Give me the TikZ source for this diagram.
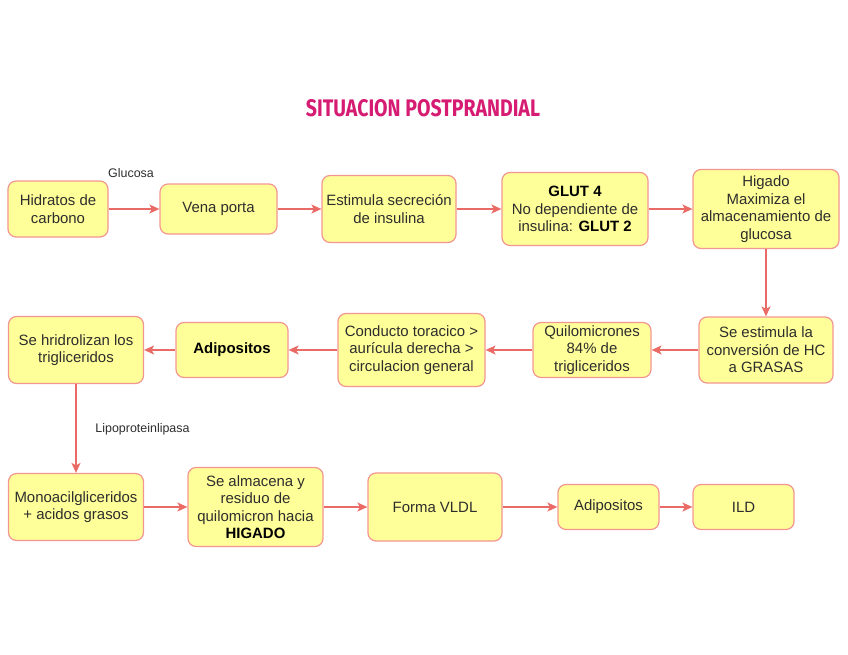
\documentclass[tikz,border=0pt]{standalone}
\usepackage{fontspec}
\usepackage{xcolor}
\setmainfont{Liberation Sans}
\newfontfamily\titleFont{Fira Sans}
\usetikzlibrary{arrows.meta}
\definecolor{boxFill}{RGB}{255,255,153}
\definecolor{boxLine}{RGB}{242,150,146}
\definecolor{arrowRed}{RGB}{234,107,102}
\definecolor{titlePink}{RGB}{214,27,114}
\definecolor{textGray}{RGB}{45,45,45}

\tikzset{
	flowBox/.style={draw=boxLine, fill=boxFill, line width=1.2bp, rounded corners=8bp,
		align=center, inner sep=1bp, text=textGray,
		font=\fontsize{15}{17.6}\selectfont},
	flowArrow/.style={draw=arrowRed, line width=1.4bp, -{Stealth[length=10bp, width=9bp, inset=2.5bp]}},
	edgeLabel/.style={text=textGray, font=\fontsize{12.5}{14}\selectfont, inner sep=0pt}
}

\begin{document}
\begin{tikzpicture}[x=1bp, y=-1bp]

% Define page.

	\useasboundingbox (0,0) rectangle (848,655);

% Title.

	\node[text=titlePink] (title) at (423, 108.5)
		{\resizebox{234bp}{17bp}{\titleFont\bfseries SITUACION\ POSTPRANDIAL}};

% Draw boxes.

	%first row
	\node[flowBox, minimum width=100bp, minimum height=56bp] (hidratos) at (58, 209) {Hidratos de\\carbono};
	\node[flowBox, minimum width=117bp, minimum height=50bp] (venaPorta) at (218.5, 209) {Vena porta};
	\node[flowBox, minimum width=134bp, minimum height=67bp] (estimula) at (389, 209) {Estimula secreción\\de insulina};
	\node[flowBox, minimum width=146bp, minimum height=73bp] (glut) at (575, 209) {\textcolor{black}{\textbf{GLUT 4}}\\No dependiente de\\insulina: \textcolor{black}{\textbf{GLUT 2}}};
	\node[flowBox, minimum width=146bp, minimum height=79bp] (higado) at (766, 209) {Higado\\Maximiza el\\almacenamiento de\\glucosa};

	%second row
	\node[flowBox, minimum width=134bp, minimum height=66bp] (seEstimula) at (766, 350) {Se estimula la\\conversión de HC\\a GRASAS};
	\node[flowBox, minimum width=118bp, minimum height=55bp] (quilo) at (592, 350) {Quilomicrones\\84\% de\\trigliceridos};
	\node[flowBox, minimum width=147bp, minimum height=73bp] (conducto) at (411.5, 350) {Conducto toracico >\\aurícula derecha >\\circulacion general};
	\node[flowBox, minimum width=112bp, minimum height=55bp] (adipositosBold) at (232, 350) {\textcolor{black}{\textbf{Adipositos}}};
	\node[flowBox, minimum width=135bp, minimum height=67bp] (hidrolizan) at (76, 350) {Se hridrolizan los\\trigliceridos};

	%third row
	\node[flowBox, minimum width=135bp, minimum height=67bp] (monoacil) at (76, 507) {Monoacilgliceridos\\+ acidos grasos};
	\node[flowBox, minimum width=135bp, minimum height=79bp] (almacena) at (255.5, 507) {Se almacena y\\residuo de\\quilomicron hacia\\\textcolor{black}{\textbf{HIGADO}}};
	\node[flowBox, minimum width=134bp, minimum height=68bp] (formaVldl) at (435, 507) {Forma VLDL};
	\node[flowBox, minimum width=101bp, minimum height=45bp] (adipositos) at (608.5, 507) {Adipositos};
	\node[flowBox, minimum width=101bp, minimum height=45bp] (ild) at (743.5, 507) {ILD};

% Draw arrows.

	\draw[flowArrow] (hidratos) -- (venaPorta);
	\draw[flowArrow] (venaPorta) -- (estimula);
	\draw[flowArrow] (estimula) -- (glut);
	\draw[flowArrow] (glut) -- (higado);
	\draw[flowArrow] (higado) -- (seEstimula);

	\draw[flowArrow] (seEstimula) -- (quilo);
	\draw[flowArrow] (quilo) -- (conducto);
	\draw[flowArrow] (conducto) -- (adipositosBold);
	\draw[flowArrow] (adipositosBold) -- (hidrolizan);
	\draw[flowArrow] (hidrolizan) -- (monoacil);

	\draw[flowArrow] (monoacil) -- (almacena);
	\draw[flowArrow] (almacena) -- (formaVldl);
	\draw[flowArrow] (formaVldl) -- (adipositos);
	\draw[flowArrow] (adipositos) -- (ild);

% Draw arrow labels.

	\node[edgeLabel] (glucosa) at (131, 173) {Glucosa};
	\node[edgeLabel] (lipasa) at (142.5, 429) {Lipoproteinlipasa};

\end{tikzpicture}
\end{document}
